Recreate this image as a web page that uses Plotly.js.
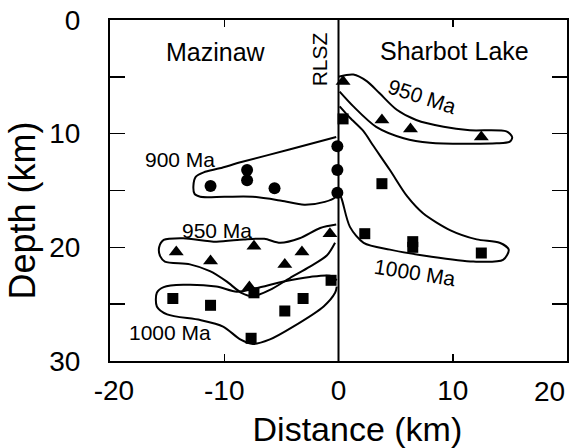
<!DOCTYPE html>
<html>
<head>
<meta charset="utf-8">
<script src="https://cdn.plot.ly/plotly-3.0.1.min.js"></script>
<style>html,body{margin:0;padding:0;background:#fff}#chart{width:570px;height:448px}</style>
</head>
<body>
<div id="chart"></div>
<script>
// ---- data (distance km, depth km) ----
const mazCircleX = [-11.2, -8.0, -8.0, -5.6];
const mazCircleY = [14.6, 13.2, 14.1, 14.8];
const rlszCircleX = [-0.1, -0.1, -0.1];
const rlszCircleY = [11.1, 13.2, 15.2];

const maz950X = [-14.2, -11.2, -7.4, -4.7, -3.2, -0.75, -7.8];
const maz950Y = [20.4, 21.2, 19.9, 21.5, 20.4, 18.8, 23.5];
const maz1000X = [-14.5, -11.2, -7.4, -4.7, -3.1, -0.65, -7.65];
const maz1000Y = [24.5, 25.1, 24.0, 25.6, 24.5, 22.9, 28.0];

const sha950X = [0.4, 3.8, 6.3, 12.5];
const sha950Y = [5.4, 8.8, 9.6, 10.3];
const sha1000X = [0.4, 3.8, 2.3, 6.5, 6.5, 12.5];
const sha1000Y = [8.7, 14.4, 18.8, 19.5, 20.0, 20.5];

// outlines
const out900X = [-0.2, -4.3, -8.5, -10.4, -11.8, -12.5, -12.7, -12.6, -12.1, -10.0, -7.5, -5.0, -3.0, -1.2, -0.3, -0.1];
const out900Y = [10.3, 11.4, 12.5, 13.05, 13.4, 13.8, 14.6, 15.3, 15.55, 15.55, 15.55, 15.9, 16.25, 16.0, 15.6, 15.1];

const outM950X = [-0.2, -1.6, -3.4, -5.1, -6.5, -8.3, -10.7, -13.6, -15.3, -15.7, -15.6, -15.2, -13.0, -11.25, -9.8, -8.5, -7.45, -6.0, -4.25, -2.5, -1.0, -0.3];
const outM950Y = [18.0, 18.3, 19.2, 19.6, 19.25, 19.3, 19.5, 19.2, 19.35, 20.0, 20.8, 21.25, 21.5, 22.1, 23.0, 24.0, 24.3, 23.75, 22.7, 21.7, 20.7, 19.6];

const outM1000X = [-0.15, -0.75, -2.5, -4.8, -7.2, -8.9, -10.7, -13.6, -15.3, -15.9, -15.9, -15.0, -12.1, -10.1, -8.6, -7.5, -6.0, -4.0, -1.3, -0.3, -0.15];
const outM1000Y = [22.9, 22.5, 22.6, 23.0, 23.6, 23.9, 23.45, 23.3, 23.5, 24.0, 25.2, 25.9, 26.4, 26.97, 28.1, 28.5, 28.1, 27.0, 25.2, 24.0, 23.45];

const outS950X = [0.0, 1.3, 2.5, 3.6, 5.1, 6.8, 9.2, 11.5, 14.7, 15.2, 15.0, 13.85, 8.0, 5.7, 3.3, 1.3, 0.1];
const outS950Y = [5.0, 4.8, 5.4, 6.45, 7.9, 8.8, 9.4, 9.7, 9.8, 10.3, 10.7, 10.85, 10.8, 10.4, 9.4, 7.6, 6.3];

const outS1000X = [0.1, 1.0, 2.2, 3.0, 4.5, 6.0, 7.4, 9.8, 12.1, 14.1, 14.9, 14.4, 11.8, 8.0, 4.5, 2.2, 1.0, 0.3, 0.0];
const outS1000Y = [7.6, 8.6, 9.8, 11.0, 13.2, 15.5, 17.0, 18.5, 19.3, 19.6, 20.2, 21.1, 21.25, 20.8, 20.2, 19.6, 18.2, 15.8, 15.0];

const rlszX = [0, 0];
const rlszY = [0, 30];

const NB = '\u00a0';
const xTickVals = [-20, -10, 0, 10, 20];
const xTickText = [NB + '-20', '-10', '0', '10', ''];
const xEndLabel = '20';   // last x tick label, drawn flush with the frame
const yTickVals = [0, 5, 10, 15, 20, 25, 30];
const yTickText = ['0', '', '10', '', '20', '', '30'];

// labels
const labelText = ['Mazinaw', 'Sharbot Lake', 'RLSZ', '900 Ma', '950 Ma', '1000 Ma', '950 Ma', '1000 Ma'];
const labelX = [-10.7, 10.15, -1.66, -13.85, -10.66, -14.75, 7.35, 6.7];
const labelY = [2.8, 2.7, 3.5, 12.27, 18.5, 27.5, 6.75, 22.2];
const labelAngle = [0, 0, -90, 0, 0, 0, 18, 9];
const labelSize = [25, 25, 21, 21, 21, 21, 21, 21];

const FONT = 'Liberation Sans, Arial, Helvetica, sans-serif';
const line = (x, y) => ({x, y, type: 'scatter', mode: 'lines', line: {color: '#000', width: 2, shape: 'spline', smoothing: 0.8}, hoverinfo: 'skip', showlegend: false});
const pts = (x, y, sym, size) => ({x, y, type: 'scatter', mode: 'markers', marker: {symbol: sym, color: '#000', size: size}, showlegend: false});

const traces = [
  {x: rlszX, y: rlszY, type: 'scatter', mode: 'lines', line: {color: '#000', width: 2}, showlegend: false},
  line(out900X, out900Y),
  line(outM950X, outM950Y),
  line(outM1000X, outM1000Y),
  line(outS950X, outS950Y),
  line(outS1000X, outS1000Y),
  pts(mazCircleX, mazCircleY, 'circle', 12),
  pts(rlszCircleX, rlszCircleY, 'circle', 12),
  pts(maz950X, maz950Y, 'triangle-up', 13),
  pts(sha950X, sha950Y, 'triangle-up', 13),
  pts(maz1000X, maz1000Y, 'square', 11),
  pts(sha1000X, sha1000Y, 'square', 11)
];

const annotations = labelText.map((t, i) => ({
  x: labelX[i], y: labelY[i], xref: 'x', yref: 'y', text: t, showarrow: false,
  textangle: labelAngle[i], xanchor: 'center', yanchor: 'middle',
  font: {family: FONT, size: labelSize[i], color: '#000'}
}));
annotations.push({
  x: xTickVals[xTickVals.length - 1], xref: 'x', y: 0, yref: 'paper', text: xEndLabel,
  showarrow: false, xanchor: 'right', yanchor: 'top', yshift: -13,
  font: {family: FONT, size: 28, color: '#000'}
});

const axisCommon = {
  showgrid: false, zeroline: false, showline: true, linecolor: '#000', linewidth: 2,
  mirror: 'ticks', ticks: 'inside', tickcolor: '#000', tickwidth: 1.5,
  tickmode: 'array', tickfont: {family: FONT, size: 28, color: '#000'}
};

const layout = {
  width: 570, height: 448,
  margin: {l: 110, r: 3, t: 20, b: 87},
  paper_bgcolor: '#fff', plot_bgcolor: '#fff',
  font: {family: FONT, color: '#000'},
  showlegend: false,
  xaxis: Object.assign({}, axisCommon, {
    range: [-20, 20], tickvals: xTickVals, ticktext: xTickText, ticklen: 7,
    ticklabelstandoff: 3,
    title: {text: '\u200b' + NB.repeat(4) + 'Distance (km)', font: {family: FONT, size: 34, color: '#000'}, standoff: 14}
  }),
  yaxis: Object.assign({}, axisCommon, {
    range: [30, 0], tickvals: yTickVals, ticktext: yTickText, ticklen: 15,
    ticklabelstandoff: 22,
    title: {text: 'Depth (km)' + NB.repeat(4) + '\u200b', font: {family: FONT, size: 36, color: '#000'}, standoff: 3}
  }),
  annotations: annotations
};

Plotly.newPlot('chart', traces, layout, {staticPlot: true, displayModeBar: false});
</script>
</body>
</html>
